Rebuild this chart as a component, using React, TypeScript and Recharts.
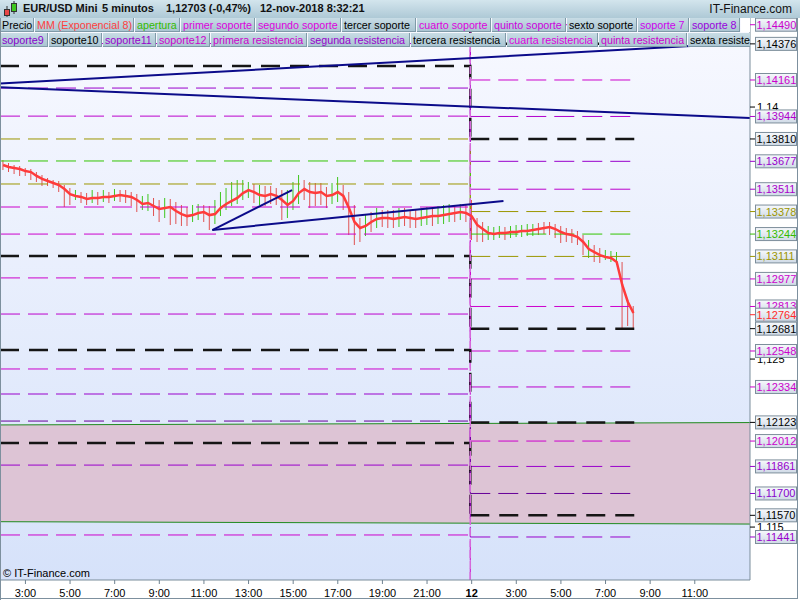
import React from 'react';
import { ComposedChart, Line, Bar, Area, XAxis, YAxis, ReferenceLine, Cell } from 'recharts';

// 15-minute slots, slot 0 = 2:00 on Friday
const emaValues = [
  1.13655, 1.13643, 1.13637, 1.13631, 1.13619, 1.13613, 1.1359, 1.13572, 1.1356, 1.13548,
  1.13536, 1.13512, 1.13482, 1.13471, 1.13465, 1.13453, 1.13459, 1.13459, 1.13465, 1.13465,
  1.13471, 1.13476, 1.13471, 1.13465, 1.13447, 1.13423, 1.13429, 1.13411, 1.13393, 1.13399,
  1.13405, 1.13381, 1.13363, 1.13351, 1.13357, 1.13369, 1.13375, 1.13357, 1.13363, 1.13399,
  1.13423, 1.13441, 1.13459, 1.13488, 1.13506, 1.13494, 1.13476, 1.13471, 1.13482, 1.13471,
  1.13447, 1.13417, 1.13441, 1.13488, 1.13512, 1.13494, 1.13488, 1.13494, 1.13471, 1.13476,
  1.13494, 1.13471, 1.13399, 1.13316, 1.1328, 1.13292, 1.13316, 1.13334, 1.1334, 1.1334,
  1.13334, 1.1334, 1.13346, 1.1334, 1.13334, 1.1334, 1.13346, 1.13351, 1.13351, 1.13357,
  1.13363, 1.13369, 1.13375, 1.13369, 1.13351, 1.13298, 1.13274, 1.1325, 1.13244, 1.1325,
  1.1325, 1.13256, 1.13256, 1.13262, 1.13262, 1.13268, 1.13274, 1.1328, 1.13286, 1.13274,
  1.13256, 1.13244, 1.13238, 1.13226, 1.13197, 1.13155, 1.13137, 1.13119, 1.13108, 1.13102,
  1.13078, 1.12941, 1.1284, 1.12774,
];
const highValues = [
  1.13685, 1.13667, 1.13655, 1.13649, 1.13637, 1.13631, 1.13613, 1.13596, 1.13578, 1.13566,
  1.1356, 1.13536, 1.13518, 1.13506, 1.13494, 1.13488, 1.13506, 1.13494, 1.13506, 1.13494,
  1.13512, 1.13506, 1.13506, 1.13494, 1.13482, 1.13471, 1.13482, 1.13459, 1.13447, 1.13459,
  1.13453, 1.13435, 1.13417, 1.13405, 1.13417, 1.13423, 1.13417, 1.13411, 1.13447, 1.13494,
  1.13518, 1.13554, 1.13566, 1.13566, 1.13554, 1.13542, 1.13536, 1.1353, 1.1353, 1.13518,
  1.13506, 1.13506, 1.13554, 1.13596, 1.13566, 1.13554, 1.13548, 1.13548, 1.13524, 1.13548,
  1.13584, 1.13536, 1.13494, 1.13417, 1.1334, 1.13357, 1.13375, 1.13399, 1.13387, 1.13387,
  1.13387, 1.13399, 1.13399, 1.13387, 1.13387, 1.13399, 1.13405, 1.13405, 1.13411, 1.13417,
  1.13423, 1.13417, 1.13423, 1.13417, 1.13447, 1.1334, 1.13316, 1.13292, 1.13286, 1.13292,
  1.13286, 1.13292, 1.13298, 1.13298, 1.13304, 1.13304, 1.1331, 1.13316, 1.13316, 1.13304,
  1.13292, 1.1328, 1.13274, 1.13262, 1.13238, 1.13209, 1.13179, 1.13161, 1.13149, 1.13143,
  1.13137, 1.13078, 1.12852, 1.12816,
];
const lowValues = [
  1.13625, 1.13613, 1.13601, 1.1359, 1.1359, 1.13566, 1.13554, 1.1353, 1.1353, 1.13518,
  1.13494, 1.13405, 1.13417, 1.13447, 1.13429, 1.13417, 1.13429, 1.13417, 1.13435, 1.13429,
  1.13441, 1.13435, 1.13429, 1.13411, 1.13375, 1.13387, 1.13381, 1.13351, 1.13316, 1.1334,
  1.13298, 1.13304, 1.13292, 1.13292, 1.13316, 1.13328, 1.13316, 1.13268, 1.13304, 1.13351,
  1.13387, 1.13411, 1.13423, 1.13447, 1.13459, 1.13429, 1.13417, 1.13411, 1.13423, 1.13417,
  1.13328, 1.1334, 1.13387, 1.13423, 1.13447, 1.13399, 1.13411, 1.13417, 1.13399, 1.13423,
  1.13435, 1.13387, 1.13238, 1.13179, 1.13197, 1.13232, 1.13256, 1.1328, 1.13286, 1.1328,
  1.1328, 1.13286, 1.13292, 1.1328, 1.1328, 1.13292, 1.13298, 1.13292, 1.13304, 1.13304,
  1.13316, 1.13316, 1.13328, 1.13316, 1.13209, 1.13197, 1.13197, 1.13209, 1.13209, 1.13221,
  1.13209, 1.13221, 1.13226, 1.13226, 1.13232, 1.13232, 1.13238, 1.13244, 1.13238, 1.13221,
  1.13191, 1.13197, 1.13191, 1.13179, 1.13119, 1.13102, 1.13078, 1.13072, 1.1309, 1.13078,
  1.1306, 1.12685, 1.12697, 1.12685,
];

const timeTicks = [4, 12, 20, 28, 36, 44, 52, 60, 68, 76, 84, 92, 100, 108, 116, 124];
const timeLabels = ['3:00', '5:00', '7:00', '9:00', '11:00', '13:00', '15:00', '17:00', '19:00', '21:00', '12', '3:00', '5:00', '7:00', '9:00', '11:00'];

// pivot levels: friday section, monday section
const levelsFriday = [
  1.14924, 1.1481, 1.14595, 1.14378, 1.14244, 1.14113, 1.13946, 1.1381, 1.13679, 1.13542, 1.13405,
  1.13244, 1.13113, 1.12983, 1.12768, 1.12554, 1.12441, 1.12292, 1.12131, 1.12, 1.11869, 1.11453,
];
const levelsMonday = [
  1.1449, 1.14376, 1.14161, 1.13944, 1.1381, 1.13677, 1.13511, 1.13378, 1.13244, 1.13111, 1.12977,
  1.12813, 1.12681, 1.12548, 1.12334, 1.12123, 1.12012, 1.11861, 1.117, 1.1157, 1.11441, 1.11019,
];
const levelColors = [
  '#cc00cc', '#151515', '#cc00cc', '#b000cc', '#151515', '#9900cc', '#bb00cc', '#9c9600', '#33c400', '#9c9600', '#cc00cc',
  '#cc00cc', '#151515', '#cc00cc', '#bb00cc', '#151515', '#cc00cc', '#9900cc', '#660099', '#151515', '#9900cc', '#cc00cc',
];

const axisLabelValues = [
  1.1449, 1.14376, 1.14161, 1.13944, 1.1381, 1.13677, 1.13511, 1.13378, 1.13244, 1.13111, 1.12977,
  1.12813, 1.12681, 1.12548, 1.12334, 1.12123, 1.12012, 1.11861, 1.117, 1.1157, 1.11441, 1.12764,
];
const axisLabelColors = [
  '#cc00cc', '#000000', '#cc00cc', '#b000cc', '#000000', '#9900cc', '#aa00cc', '#9c9600', '#33bb00', '#9c9600', '#cc00cc',
  '#cc00cc', '#000000', '#cc00cc', '#cc00cc', '#000000', '#cc00cc', '#9900cc', '#8800cc', '#000000', '#9900cc', '#ff2a2a',
];
const gridTickValues = [1.115, 1.125, 1.14];
const gridTickLabels = ['1,115', '1,125', '1,14'];

// channel (left edge, right edge)
const channelTop = [1.12108, 1.12122];
const channelBottom = [1.11532, 1.11518];

// trend lines: [x1, y1, x2, y2]
const trendLines = [
  [-0.56, 1.1414, 133.9, 1.14382],
  [-0.56, 1.14118, 133.9, 1.13935],
  [37.5, 1.13268, 51.8, 1.13506],
  [37.5, 1.13268, 89.7, 1.13441],
];

const legendRow1 = [
  ['Precio', '#000000', 0, 35], ['MM (Exponencial 8)', '#ff4040', 35, 135], ['apertura', '#33bb00', 135, 181],
  ['primer soporte', '#dd00dd', 181, 256], ['segundo soporte', '#dd00dd', 256, 342], ['tercer soporte', '#000000', 342, 417],
  ['cuarto soporte', '#dd00dd', 417, 492], ['quinto soporte', '#cc00dd', 492, 567], ['sexto soporte', '#000000', 567, 638],
  ['soporte 7', '#cc00ee', 638, 690], ['soporte 8', '#9900dd', 690, 741],
];
const legendRow2 = [
  ['soporte9', '#8800cc', 0, 49], ['soporte10', '#000000', 49, 103], ['soporte11', '#9900cc', 103, 157],
  ['soporte12', '#cc00cc', 157, 211], ['primera resistencia', '#cc00cc', 211, 308], ['segunda resistencia', '#9900cc', 308, 411],
  ['tercera resistencia', '#000000', 411, 507], ['cuarta resistencia', '#dd00dd', 507, 599], ['quinta resistencia', '#cc00cc', 599, 688],
  ['sexta resistencia', '#000000', 688, 760],
];

const XMIN = -0.56;
const XMAX = 133.9;
const DAY_BREAK = 83.75;
const DAY_END = 113.7;
const YMIN = 1.11185;
const YMAX = 1.1453;
const FONT = '"Liberation Sans", Arial, sans-serif';
const UP = '#3fc71f';
const DOWN = '#e05252';

const fields = (prefix: string, vals: number[]) => {
  const o: Record<string, number> = {};
  vals.forEach((v, k) => { o[`${prefix}${k}`] = v; });
  return o;
};

// F* = friday level (with step down at the day break), M* = monday level
const rows: any[] = [
  { x: XMIN, ...fields('F', levelsFriday) },
  { x: DAY_BREAK, ...fields('F', levelsMonday), ...fields('M', levelsMonday) },
  { x: DAY_END, ...fields('M', levelsMonday) },
  ...emaValues.map((ema, i) => ({
    x: i,
    ema,
    range: [lowValues[i], highValues[i]],
    up: (lowValues[i] + highValues[i]) / 2 > ema,
  })),
].sort((a, b) => a.x - b.x);

const bandRows = [
  { x: XMIN, band: [channelBottom[0], channelTop[0]] },
  { x: XMAX, band: [channelBottom[1], channelTop[1]] },
];

const TimeTick = (props: any) => {
  const { x, payload } = props;
  const label = timeLabels[timeTicks.indexOf(payload.value)];
  return (
    <g>
      <line x1={x} x2={x} y1={580} y2={584} stroke="#6f8290" />
      <text x={x} y={597} textAnchor="middle" fontSize={11} fontFamily={FONT} fontWeight={label === '12' ? 'bold' : 'normal'} fill="#000">
        {label}
      </text>
    </g>
  );
};

const PriceTick = (props: any) => {
  const { y, payload } = props;
  const v = payload.value;
  const g = gridTickValues.indexOf(v);
  if (g >= 0) {
    return (
      <g>
        <line x1={750} x2={755} y1={y} y2={y} stroke="#000" />
        <text x={757} y={y + 4} fontSize={11} fontFamily={FONT} fill="#000">{gridTickLabels[g]}</text>
      </g>
    );
  }
  const k = axisLabelValues.indexOf(v);
  const c = axisLabelColors[k];
  return (
    <g>
      <line x1={750} x2={755} y1={y} y2={y} stroke={c} />
      <rect x={755.5} y={y - 6.5} width={41} height={13} fill="url(#labelGrad)" stroke="#7d8e9b" />
      <text x={756.5} y={y + 4} fontSize={11} fontFamily={FONT} fill={c}>{v.toFixed(5).replace('.', ',')}</text>
    </g>
  );
};

const legendItem = (item: any[], top: number) => (
  <div
    key={`${top}-${item[0]}`}
    style={{
      position: 'absolute', left: item[2], top, width: item[3] - item[2] - 1, height: 14,
      background: 'linear-gradient(#c8dce5, #aac5d2)', borderRight: '1px solid #7f9aa8', borderBottom: '1px solid #7f9aa8',
      color: item[1], fontSize: 10.7, lineHeight: '14px', paddingLeft: 2, boxSizing: 'border-box',
      whiteSpace: 'nowrap', overflow: 'hidden', fontFamily: FONT,
    }}
  >
    {item[0]}
  </div>
);

export default function App() {
  return (
    <div style={{ position: 'absolute', top: 0, left: 0, width: 800, height: 600, background: '#fff', overflow: 'hidden', fontFamily: FONT }}>
      <div style={{ position: 'absolute', left: 0, top: 18, width: 750, height: 562, background: 'linear-gradient(#f8f9ff, #d6e2fa)' }} />
      <div style={{ position: 'absolute', left: 0, top: 0 }}>
        <ComposedChart width={800} height={600} data={rows} margin={{ top: 18, right: 0, bottom: 0, left: 0 }}>
          <defs>
            <linearGradient id="labelGrad" x1="0" y1="0" x2="0" y2="1">
              <stop offset="0%" stopColor="#f7f9fc" />
              <stop offset="100%" stopColor="#cfdae6" />
            </linearGradient>
          </defs>
          <XAxis
            dataKey="x" type="number" domain={[XMIN, XMAX]} allowDataOverflow ticks={timeTicks} interval={0}
            height={20} tickLine={false} axisLine={{ stroke: '#7a8d9b' }} tick={(p: any) => <TimeTick {...p} />}
          />
          <YAxis
            orientation="right" width={50} domain={[YMIN, YMAX]} allowDataOverflow interval={0}
            ticks={[...gridTickValues, ...axisLabelValues]} tickLine={false} axisLine={{ stroke: '#7a8d9b' }}
            tick={(p: any) => <PriceTick {...p} />}
          />
          <Area data={bandRows} dataKey="band" type="linear" stroke="none" fill="#ddc4d5" fillOpacity={1} isAnimationActive={false} dot={false} activeDot={false} />
          <ReferenceLine segment={[{ x: XMIN, y: channelTop[0] }, { x: XMAX, y: channelTop[1] }]} stroke="#1f8a1f" strokeWidth={1} ifOverflow="visible" />
          <ReferenceLine segment={[{ x: XMIN, y: channelBottom[0] }, { x: XMAX, y: channelBottom[1] }]} stroke="#1f8a1f" strokeWidth={1} ifOverflow="visible" />
          {levelsFriday.map((_, k) => {
            const heavy = levelColors[k] === '#151515';
            const common = {
              type: 'stepAfter' as const, connectNulls: true, dot: false, activeDot: false,
              stroke: levelColors[k], strokeWidth: heavy ? 2.5 : 1, strokeDasharray: heavy ? '19 10' : '20 8',
              isAnimationActive: false,
            };
            return [
              <Line key={`fri-${k}`} dataKey={`F${k}`} {...common} />,
              <Line key={`mon-${k}`} dataKey={`M${k}`} {...common} />,
            ];
          })}
          <ReferenceLine x={DAY_BREAK} stroke="#d56ad9" strokeWidth={1.5} strokeDasharray="8 3" />
          <Bar dataKey="range" barSize={1} isAnimationActive={false}>
            {rows.map((r, i) => (
              <Cell key={`bar-${i}`} fill={r.up ? UP : DOWN} />
            ))}
          </Bar>
          <Line dataKey="ema" type="linear" connectNulls dot={false} activeDot={false} stroke="#ff3b3b" strokeWidth={2.5} isAnimationActive={false} />
          {trendLines.map((t, i) => (
            <ReferenceLine
              key={`trend-${i}`} segment={[{ x: t[0], y: t[1] }, { x: t[2], y: t[3] }]}
              stroke="#0b0b8a" strokeWidth={2} ifOverflow="visible"
            />
          ))}
        </ComposedChart>
      </div>

      {/* header */}
      <div style={{ position: 'absolute', left: 0, top: 0, width: 800, height: 18, background: 'linear-gradient(#d3e5ed, #aec9d6)', fontSize: 11, fontWeight: 'bold', color: '#111' }}>
        <svg width={20} height={18} style={{ position: 'absolute', left: 2, top: 0 }}>
          <line x1={5} x2={5} y1={6} y2={17} stroke="#333" />
          <rect x={2.5} y={9.5} width={5} height={6} fill="#e84848" stroke="#333" />
          <line x1={12} x2={12} y1={1} y2={14} stroke="#333" />
          <rect x={9.5} y={3.5} width={5} height={8} fill="#3fc71f" stroke="#333" />
        </svg>
        <span style={{ position: 'absolute', left: 23, top: 2 }}>EUR/USD Mini</span>
        <span style={{ position: 'absolute', left: 102, top: 2 }}>5 minutos</span>
        <span style={{ position: 'absolute', left: 166, top: 2 }}>1,12703 (-0,47%)</span>
        <span style={{ position: 'absolute', left: 260, top: 2 }}>12-nov-2018 8:32:21</span>
        <span style={{ position: 'absolute', right: 8, top: 2, fontWeight: 'normal', fontSize: 12 }}>IT-Finance.com</span>
      </div>

      {/* legend rows */}
      <div style={{ position: 'absolute', left: 0, top: 18, width: 750, height: 30, overflow: 'hidden' }}>
        {legendRow1.map((it) => legendItem(it, 0))}
        <div style={{ position: 'absolute', left: 741, top: 0, width: 9, height: 14, background: '#fff' }} />
        {legendRow2.map((it) => legendItem(it, 15))}
      </div>

      <div style={{ position: 'absolute', left: 3, top: 567, fontSize: 11, color: '#000' }}>© IT-Finance.com</div>

      {/* frame */}
      <div style={{ position: 'absolute', left: 0, top: 18, width: 1, height: 582, background: '#7d909e' }} />
      <div style={{ position: 'absolute', left: 797, top: 18, width: 1, height: 581, background: '#7d909e' }} />
      <div style={{ position: 'absolute', left: 0, top: 598, width: 798, height: 1, background: '#7d909e' }} />
    </div>
  );
}
